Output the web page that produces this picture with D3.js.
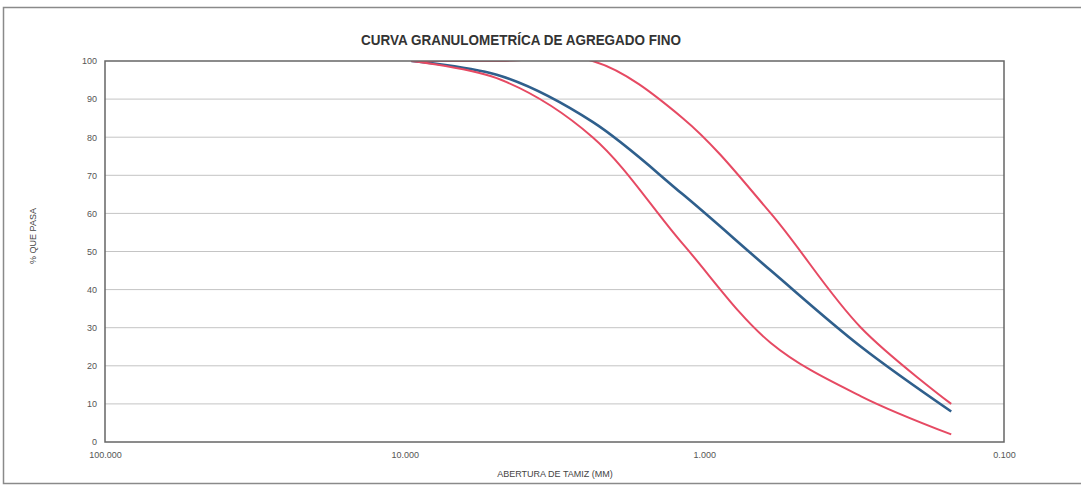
<!DOCTYPE html>
<meta charset="utf-8">
<html>
<!-- Load d3.js -->
<script src="https://d3js.org/d3.v7.min.js"></script>
<style>
    body { margin: 0; background: #fff; }
    text { font-family: "Liberation Sans Narrow", "Arial Narrow", "Liberation Sans", Arial, sans-serif; }
</style>
<body>
<div id="my_dataviz"></div>
<script>

    // sieve openings (mm) and % passing
    var aberturas = [9.5, 4.75, 2.36, 1.18, 0.6, 0.3, 0.15];
    var muestra  = [100, 96, 84, 65, 45, 25, 8];
    var limInf   = [100, 95, 80, 52, 26, 12, 2];
    var limSup   = [100, 100, 100, 85, 60, 30, 10];

    var xTicks = [100, 10, 1, 0.1];
    var yTicks = [0, 10, 20, 30, 40, 50, 60, 70, 80, 90, 100];

    var W = 1081, H = 486;
    var margin = { top: 61, right: 77, bottom: 44, left: 105 },
        width = W - margin.left - margin.right,
        height = H - margin.top - margin.bottom;

    var root = d3.select("#my_dataviz")
        .append("svg")
        .attr("width", W)
        .attr("height", H);

    // outer frame (right side runs off the page)
    root.append("rect")
        .attr("x", 3.5).attr("y", 7.5)
        .attr("width", W + 20).attr("height", 476)
        .attr("fill", "none")
        .attr("stroke", "#8a8a8a")
        .attr("stroke-width", 1.5);

    root.append("text")
        .attr("x", 521).attr("y", 45)
        .attr("text-anchor", "middle")
        .attr("font-size", "14px")
        .attr("font-weight", "bold")
        .attr("fill", "#333")
        .attr("textLength", 320)
        .attr("lengthAdjust", "spacingAndGlyphs")
        .text("CURVA GRANULOMETRÍCA DE AGREGADO FINO");

    var svg = root.append("g")
        .attr("transform", "translate(" + margin.left + "," + margin.top + ")");

    var x = d3.scaleLog()
        .domain([100, 0.1])
        .range([0, width]);

    var y = d3.scaleLinear()
        .domain([0, 100])
        .range([height, 0]);

    // gridlines
    svg.append("g")
        .selectAll("line")
        .data(yTicks.filter(function (d) { return d > 0 && d < 100; }))
        .enter().append("line")
        .attr("x1", 0).attr("x2", width)
        .attr("y1", function (d) { return y(d); })
        .attr("y2", function (d) { return y(d); })
        .attr("stroke", "#c4c4c4")
        .attr("stroke-width", 1);

    // Y axis
    var yAxis = svg.append("g")
        .call(d3.axisLeft(y).tickValues(yTicks).tickSize(0).tickPadding(8));
    yAxis.select(".domain").remove();
    yAxis.selectAll("text")
        .attr("font-size", "9px")
        .attr("fill", "#555")
        .style("font-family", "Liberation Sans, Arial, sans-serif");

    // X axis
    var xAxis = svg.append("g")
        .attr("transform", "translate(0," + height + ")")
        .call(d3.axisBottom(x).tickValues(xTicks).tickFormat(d3.format(".3f")).tickSize(0).tickPadding(10));
    xAxis.select(".domain").remove();
    xAxis.selectAll("text")
        .attr("font-size", "9px")
        .attr("fill", "#555")
        .style("font-family", "Liberation Sans, Arial, sans-serif");

    // axis titles
    root.append("text")
        .attr("transform", "translate(36,236) rotate(-90)")
        .attr("text-anchor", "middle")
        .attr("font-size", "9px")
        .attr("fill", "#444")
        .text("% QUE PASA");

    root.append("text")
        .attr("x", 555).attr("y", 477)
        .attr("text-anchor", "middle")
        .attr("font-size", "9px")
        .attr("fill", "#444")
        .text("ABERTURA DE TAMIZ (MM)");

    // clip to plot
    svg.append("clipPath").attr("id", "clip")
        .append("rect").attr("width", width).attr("height", height);

    var line = d3.line()
        .x(function (d) { return x(d[0]); })
        .y(function (d) { return y(d[1]); })
        .curve(d3.curveCatmullRom.alpha(0.5));

    function serie(vals) {
        return aberturas.map(function (a, i) { return [a, vals[i]]; });
    }

    var curvas = svg.append("g").attr("clip-path", "url(#clip)");

    curvas.append("path")
        .datum(serie(muestra))
        .attr("fill", "none")
        .attr("stroke", "#2f5f8c")
        .attr("stroke-width", 2.6)
        .attr("d", line);

    [limInf, limSup].forEach(function (lim) {
        curvas.append("path")
            .datum(serie(lim))
            .attr("fill", "none")
            .attr("stroke", "#e64a63")
            .attr("stroke-width", 2)
            .attr("d", line);
    });

    // plot border
    svg.append("rect")
        .attr("width", width).attr("height", height)
        .attr("fill", "none")
        .attr("stroke", "#666")
        .attr("stroke-width", 1.5);

</script>
</body>
</html>
